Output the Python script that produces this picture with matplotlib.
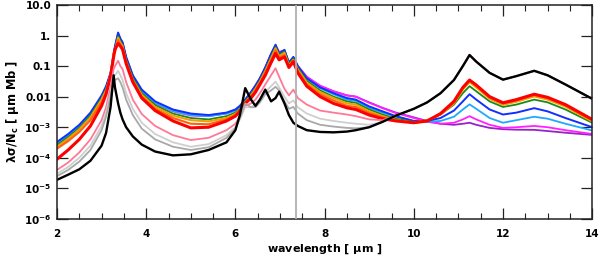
import matplotlib
matplotlib.use("Agg")
import matplotlib.pyplot as plt
import numpy as np
from matplotlib.ticker import FixedLocator, MultipleLocator, NullLocator

plt.rcParams['font.family'] = ['DejaVu Sans']
plt.rcParams['font.weight'] = 'bold'
plt.rcParams['mathtext.default'] = 'bf'

wave = [2.0, 2.25, 2.5, 2.75, 3.0, 3.1, 3.2, 3.27, 3.3, 3.37,
        3.42, 3.47, 3.55, 3.7, 3.9, 4.2, 4.6, 5.0, 5.4, 5.8,
        6.0, 6.1, 6.22, 6.35, 6.45, 6.55, 6.67, 6.8, 6.9, 6.98,
        7.1, 7.2, 7.3, 7.4, 7.6, 7.9, 8.2, 8.5, 8.7, 9.0,
        9.3, 9.6, 10.0, 10.3, 10.6, 10.9, 11.1, 11.25, 11.4, 11.7,
        12.0, 12.3, 12.7, 13.0, 13.4, 14.0]

black = [1.9e-5, 2.8e-5, 4.2e-5, 8e-5, 2.5e-4, 6.5e-4, 4.5e-3, 5e-2, 2e-2, 6e-3,
         3e-3, 1.8e-3, 1e-3, 5e-4, 2.7e-4, 1.6e-4, 1.2e-4, 1.3e-4, 1.8e-4, 3.2e-4,
         8e-4, 2.5e-3, 1.9e-2, 8e-3, 5e-3, 8e-3, 1.7e-2, 7e-3, 9e-3, 1.45e-2,
         6e-3, 2.5e-3, 1.4e-3, 1.1e-3, 8e-4, 7e-4, 6.8e-4, 7.2e-4, 8e-4, 1e-3,
         1.5e-3, 2.4e-3, 4e-3, 6.5e-3, 1.3e-2, 3.5e-2, 1e-1, 2.3e-1, 1.4e-1, 6e-2,
         3.6e-2, 4.7e-2, 7e-2, 5e-2, 2.5e-2, 8.5e-3]

grey = [2.5e-5, 4e-5, 7.5e-5, 1.8e-4, 8e-4, 2.2e-3, 1e-2, 4e-2, 3.5e-2, 4e-2,
        3e-2, 2e-2, 8e-3, 2.5e-3, 9e-4, 4e-4, 2.3e-4, 1.8e-4, 2.2e-4, 4.5e-4,
        9e-4, 2e-3, 6e-3, 4.5e-3, 4.5e-3, 6.5e-3, 1.2e-2, 1.6e-2, 2.1e-2, 1.6e-2,
        7e-3, 4e-3, 4.6e-3, 2.8e-3, 1.7e-3, 1.2e-3, 1.05e-3, 9.5e-4, 9.2e-4, 1e-3,
        1.5e-3, 2.4e-3, 4e-3, 6.5e-3, 1.3e-2, 3.5e-2, 1e-1, 2.3e-1, 1.4e-1, 6e-2,
        3.6e-2, 4.7e-2, 7e-2, 5e-2, 2.5e-2, 8.5e-3]

lightgrey = [3e-5, 5e-5, 1e-4, 2.5e-4, 1.1e-3, 3e-3, 1.3e-2, 4.5e-2, 5e-2, 7e-2,
             5e-2, 3.5e-2, 1.3e-2, 4e-3, 1.4e-3, 6e-4, 3.2e-4, 2.3e-4, 2.8e-4, 5.5e-4,
             1e-3, 1.8e-3, 4.5e-3, 4.5e-3, 5.5e-3, 8e-3, 1.4e-2, 2.2e-2, 3.1e-2, 2e-2,
             1e-2, 6e-3, 7.5e-3, 4.5e-3, 2.8e-3, 1.9e-3, 1.6e-3, 1.4e-3, 1.3e-3, 1.2e-3,
             1.5e-3, 2.4e-3, 4e-3, 6.5e-3, 1.3e-2, 3.5e-2, 1e-1, 2.3e-1, 1.4e-1, 6e-2,
             3.6e-2, 4.7e-2, 7e-2, 5e-2, 2.5e-2, 8.5e-3]

pink = [4e-5, 7e-5, 1.5e-4, 4e-4, 1.7e-3, 4.5e-3, 2e-2, 8e-2, 1e-1, 1.5e-1,
        1e-1, 8e-2, 3e-2, 8e-3, 2.7e-3, 1.1e-3, 5.5e-4, 3.8e-4, 4.5e-4, 8e-4,
        1.3e-3, 2.2e-3, 5e-3, 6e-3, 8e-3, 1.3e-2, 2.5e-2, 5e-2, 8.5e-2, 4.5e-2,
        1.8e-2, 1.1e-2, 1.7e-2, 9e-3, 5.5e-3, 3.5e-3, 3e-3, 2.6e-3, 2.3e-3, 1.8e-3,
        1.7e-3, 2.4e-3, 4e-3, 6.5e-3, 1.3e-2, 3.5e-2, 1e-1, 2.3e-1, 1.4e-1, 6e-2,
        3.6e-2, 4.7e-2, 7e-2, 5e-2, 2.5e-2, 8.5e-3]

red = [9e-5, 1.8e-4, 4e-4, 1.1e-3, 5e-3, 1.2e-2, 4.5e-2, 2e-1, 3.5e-1, 5.5e-1,
       4.5e-1, 3.5e-1, 1.2e-1, 3e-2, 9e-3, 3.5e-3, 1.6e-3, 9.5e-4, 1e-3, 1.6e-3,
       2.3e-3, 3.3e-3, 6e-3, 9e-3, 1.4e-2, 2.5e-2, 5e-2, 1.3e-1, 2.6e-1, 1.6e-1,
       2e-1, 9e-2, 1.4e-1, 6e-2, 2.2e-2, 1e-2, 6e-3, 4.3e-3, 3.8e-3, 2.5e-3,
       1.9e-3, 1.6e-3, 1.4e-3, 1.6e-3, 2.8e-3, 7e-3, 2e-2, 3.5e-2, 2.4e-2, 1e-2,
       6.3e-3, 8e-3, 1.2e-2, 9.5e-3, 5.5e-3, 1.8e-3]

orange = [2e-4, 3.5e-4, 7e-4, 1.7e-3, 6.5e-3, 1.4e-2, 5e-2, 2.5e-1, 3e-1, 7e-1,
          5e-1, 4e-1, 1.3e-1, 3.2e-2, 1e-2, 4e-3, 2e-3, 1.3e-3, 1.25e-3, 1.8e-3,
          2.5e-3, 3.5e-3, 6.3e-3, 1e-2, 1.6e-2, 2.8e-2, 6e-2, 1.55e-1, 3.2e-1, 1.9e-1,
          2.3e-1, 9.5e-2, 1.5e-1, 6.8e-2, 2.5e-2, 1.2e-2, 7.5e-3, 5e-3, 4.6e-3, 2.9e-3,
          2.1e-3, 1.7e-3, 1.4e-3, 1.6e-3, 2.7e-3, 6.6e-3, 1.9e-2, 3.3e-2, 2.3e-2, 9.5e-3,
          6e-3, 7.6e-3, 1.14e-2, 9e-3, 5.2e-3, 1.7e-3]

gold = [2.3e-4, 4.2e-4, 8.5e-4, 2.1e-3, 8e-3, 1.6e-2, 5e-2, 2.7e-1, 3.2e-1, 8.5e-1,
        5.8e-1, 4.5e-1, 1.4e-1, 3.5e-2, 1.15e-2, 4.6e-3, 2.4e-3, 1.7e-3, 1.55e-3, 2e-3,
        2.7e-3, 3.7e-3, 6.5e-3, 1.1e-2, 1.8e-2, 3.1e-2, 6.8e-2, 1.8e-1, 3.8e-1, 2.1e-1,
        2.7e-1, 1.05e-1, 1.6e-1, 7.7e-2, 2.9e-2, 1.4e-2, 9e-3, 6e-3, 5.5e-3, 3.3e-3,
        2.3e-3, 1.7e-3, 1.4e-3, 1.7e-3, 2.6e-3, 6e-3, 1.7e-2, 3e-2, 2e-2, 8.5e-3,
        5.4e-3, 6.8e-3, 1.02e-2, 8e-3, 4.7e-3, 1.55e-3]

green = [2.6e-4, 4.7e-4, 9.5e-4, 2.4e-3, 9e-3, 1.8e-2, 5e-2, 2.2e-1, 3.6e-1, 9.5e-1,
         6.5e-1, 5e-1, 1.6e-1, 4e-2, 1.3e-2, 5.3e-3, 2.8e-3, 2e-3, 1.8e-3, 2.3e-3,
         3e-3, 4e-3, 7e-3, 1.2e-2, 1.9e-2, 3.4e-2, 7.5e-2, 2e-1, 4.2e-1, 2.3e-1,
         3e-1, 1.15e-1, 1.75e-1, 8.5e-2, 3.3e-2, 1.6e-2, 1e-2, 7e-3, 6.3e-3, 3.8e-3,
         2.6e-3, 1.9e-3, 1.5e-3, 1.7e-3, 2.6e-3, 5.5e-3, 1.3e-2, 2.2e-2, 1.5e-2, 7e-3,
         4.6e-3, 5.5e-3, 8e-3, 6.5e-3, 3.8e-3, 1.4e-3]

blue = [3.3e-4, 6e-4, 1.2e-3, 3e-3, 1.1e-2, 2.2e-2, 6e-2, 2.5e-1, 4.5e-1, 1.25,
        8e-1, 6e-1, 2e-1, 5e-2, 1.7e-2, 7e-3, 3.8e-3, 2.8e-3, 2.5e-3, 3e-3,
        3.8e-3, 5e-3, 8e-3, 1.4e-2, 2.3e-2, 4e-2, 9e-2, 2.5e-1, 5e-1, 2.5e-1,
        3.4e-1, 1.3e-1, 2e-1, 1e-1, 4e-2, 2e-2, 1.3e-2, 9e-3, 8e-3, 4.8e-3,
        3.3e-3, 2.3e-3, 1.6e-3, 1.6e-3, 2e-3, 3.5e-3, 7e-3, 1.2e-2, 8e-3, 3.8e-3,
        2.6e-3, 3e-3, 4.2e-3, 3.3e-3, 2e-3, 1e-3]

cyan = [3e-4, 5.5e-4, 1.1e-3, 2.7e-3, 1e-2, 2e-2, 5.5e-2, 2.2e-1, 4e-1, 1.1,
        7.5e-1, 5.5e-1, 1.8e-1, 4.5e-2, 1.5e-2, 6.3e-3, 3.4e-3, 2.5e-3, 2.3e-3, 2.8e-3,
        3.5e-3, 4.6e-3, 7.5e-3, 1.3e-2, 2.1e-2, 3.7e-2, 8.5e-2, 2.3e-1, 4.7e-1, 2.4e-1,
        3.2e-1, 1.25e-1, 1.9e-1, 9.5e-2, 3.8e-2, 1.9e-2, 1.2e-2, 8e-3, 7.3e-3, 4.3e-3,
        3e-3, 2.2e-3, 1.6e-3, 1.5e-3, 1.6e-3, 2.2e-3, 3.8e-3, 5.6e-3, 4e-3, 2e-3,
        1.4e-3, 1.7e-3, 2.2e-3, 1.9e-3, 1.3e-3, 7.8e-4]

magenta = [2e-4, 4e-4, 9e-4, 2.3e-3, 9e-3, 1.8e-2, 5e-2, 2.2e-1, 3.8e-1, 1.0,
           7e-1, 5.5e-1, 1.8e-1, 4.5e-2, 1.5e-2, 6e-3, 3.3e-3, 2.4e-3, 2.3e-3, 2.8e-3,
           3.6e-3, 4.8e-3, 7.8e-3, 1.4e-2, 2.3e-2, 4e-2, 9e-2, 2.4e-1, 4.6e-1, 2.8e-1,
           3e-1, 1.1e-1, 1.7e-1, 1e-1, 4.5e-2, 2.3e-2, 1.5e-2, 1.1e-2, 1e-2, 6.3e-3,
           4.2e-3, 2.9e-3, 2e-3, 1.5e-3, 1.3e-3, 1.4e-3, 1.8e-3, 2.3e-3, 1.8e-3, 1.2e-3,
           9.5e-4, 1e-3, 1.1e-3, 1e-3, 8e-4, 6e-4]

purple = [2.8e-4, 5.2e-4, 1.05e-3, 2.7e-3, 1e-2, 2e-2, 5.5e-2, 2.3e-1, 4.2e-1, 1.15,
          7.7e-1, 5.8e-1, 1.9e-1, 4.8e-2, 1.6e-2, 6.6e-3, 3.6e-3, 2.6e-3, 2.4e-3, 2.9e-3,
          3.7e-3, 4.9e-3, 7.9e-3, 1.4e-2, 2.3e-2, 4e-2, 9e-2, 2.5e-1, 4.8e-1, 2.9e-1,
          3.3e-1, 1.3e-1, 1.9e-1, 1e-1, 4.4e-2, 2.2e-2, 1.5e-2, 1.1e-2, 1e-2, 6.5e-3,
          4.3e-3, 3e-3, 2.1e-3, 1.6e-3, 1.3e-3, 1.2e-3, 1.3e-3, 1.4e-3, 1.2e-3, 9.5e-4,
          8.6e-4, 8.3e-4, 8.2e-4, 7.5e-4, 6.6e-4, 5.6e-4]

marker_wave = 7.35

yticks = [1e-6, 1e-5, 1e-4, 1e-3, 1e-2, 1e-1, 1.0, 10.0]
yticklabels = [r'$10^{-6}$', r'$10^{-5}$', r'$10^{-4}$', r'$10^{-3}$',
               '0.01', '0.1', '1.', '10.0']
xticks = [2, 4, 6, 8, 10, 12, 14]

series = [
    (purple, '#9a20c8', 1.3),
    (magenta, '#ff20ff', 1.3),
    (cyan, '#20a8ff', 1.3),
    (blue, '#1030ff', 1.4),
    (green, '#1a8a1a', 1.3),
    (gold, '#f0a000', 1.5),
    (orange, '#ff6010', 1.5),
    (red, '#ff0000', 2.2),
    (pink, '#ff7896', 1.3),
    (lightgrey, '#cfcfcf', 1.3),
    (grey, '#a8a8a8', 1.3),
    (black, '#000000', 1.7),
]

fig = plt.figure(figsize=(6.0, 2.6), dpi=100)
ax = fig.add_axes([0.095, 0.158, 0.892, 0.823])

for vals, col, lw in series:
    ax.plot(wave, vals, color=col, lw=lw, solid_joinstyle='round')

ax.axvline(marker_wave, color='#b0b0b0', lw=1.3, zorder=3)

ax.set_yscale('log')
ax.set_xlim(2, 14)
ax.set_ylim(1e-6, 10)
ax.yaxis.set_major_locator(FixedLocator(yticks))
ax.yaxis.set_minor_locator(NullLocator())
ax.set_yticklabels(yticklabels)
ax.set_xticks(xticks)
ax.set_xticklabels([str(t) for t in xticks])
ax.xaxis.set_minor_locator(MultipleLocator(0.5))

ax.tick_params(axis='both', which='major', direction='in', length=8, width=0.9,
               top=True, right=True, labelsize=7.5, color='#222222')
ax.tick_params(axis='x', which='major', pad=7)
ax.tick_params(axis='y', which='major', pad=4)
ax.tick_params(axis='x', which='minor', direction='in', length=4, width=0.8,
               top=True, color='#222222')
for lab in ax.get_xticklabels() + ax.get_yticklabels():
    lab.set_fontweight('bold')
for sp in ax.spines.values():
    sp.set_linewidth(1.1)
    sp.set_color('#222222')

ax.set_xlabel(r'wavelength [ $\mu$m ]', fontsize=8, fontweight='bold', labelpad=3)
ax.set_ylabel(r'$\lambda\sigma$/N$_c$ [ $\mu$m Mb ]', fontsize=8.3, fontweight='bold', labelpad=2)

fig.savefig('out.png', dpi=100)
